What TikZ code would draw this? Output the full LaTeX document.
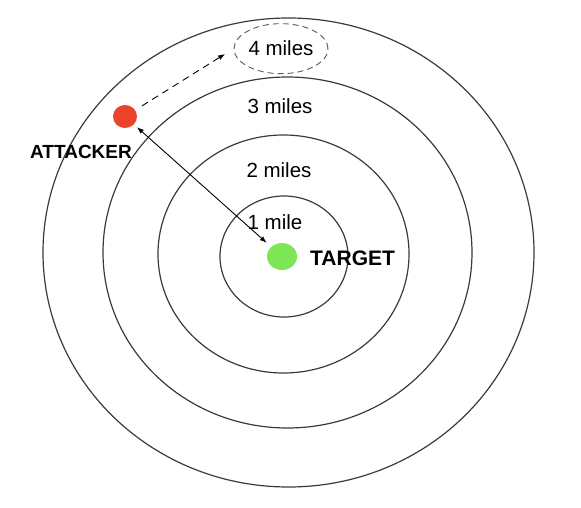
\documentclass[tikz,border=0pt]{standalone}
\usepackage{fontspec}
\setmainfont{Liberation Sans}
\usetikzlibrary{arrows.meta,shapes.geometric,positioning}

\tikzset{
  ring/.style={draw={rgb, 255:red, 58; green, 58; blue, 58 }, line width=1.2pt},
  milelabel/.style={inner sep=0.75pt, font=\fontsize{20.5}{24}\selectfont},
  tag/.style={inner sep=0.75pt, font=\bfseries\fontsize{20}{24}\selectfont},
  dot/.style={ellipse, inner sep=0pt},
  tip/.style={Latex[length=7pt,width=5pt]},
}

\begin{document}
\begin{tikzpicture}[x=1pt,y=1pt,yscale=-1,xscale=1]
\useasboundingbox (0,0) rectangle (581,508);

%Shape: Ellipse [ring 1]
\draw [ring] (284,256.5) ellipse [x radius=64, y radius=60.5];
%Shape: Ellipse [ring 2]
\draw [ring] (283.5,254) ellipse [x radius=125.5, y radius=119];
%Shape: Ellipse [ring 3]
\draw [ring] (287.5,252.5) ellipse [x radius=184.5, y radius=175.5];
%Shape: Ellipse [ring 4]
\draw [ring] (288.5,252.5) ellipse [x radius=245.5, y radius=234.5];

%Shape: Dots
\node [dot, fill={rgb, 255:red, 234; green, 67; blue, 44 }, minimum width=24, minimum height=23] (attacker) at (125,116.5) {};
\node [dot, fill={rgb, 255:red, 125; green, 230; blue, 85 }, minimum width=30, minimum height=27] (target) at (282,256.5) {};

% Text Node
\node [milelabel, ellipse, draw={rgb, 255:red, 90; green, 90; blue, 90 }, line width=0.9pt, dash pattern=on 6pt off 4pt, minimum width=86, minimum height=50, anchor=base] (four) at (281,56) {4 miles};
% Text Node
\node [milelabel, anchor=base] (three) at (280,114) {3 miles};
% Text Node
\node [milelabel, anchor=base] (two) at (279,177) {2 miles};
% Text Node
\node [milelabel, anchor=base] (one) at (275,229) {1 mile};
% Text Node
\node [tag, font=\bfseries\fontsize{19}{23}\selectfont, anchor=base] (attackertag) at (81,158) {ATTACKER};
% Text Node
\node [tag, font=\bfseries\fontsize{21}{25}\selectfont, right=12pt of target, yshift=-1.5pt] (targettag) {TARGET};

%Straight Lines [attack path]
\draw [line width=0.9pt, {Latex[length=7pt,width=5pt]}-{Latex[length=7pt,width=5pt]}, shorten <=4pt, shorten >=6pt] (attacker) -- (target);
%Straight Lines [move out]
\draw [line width=0.9pt, dash pattern=on 7pt off 5pt, -{Latex[length=7pt,width=5pt]}, shorten <=8pt, shorten >=10pt] (attacker) -- (four.west);

\end{tikzpicture}
\end{document}
